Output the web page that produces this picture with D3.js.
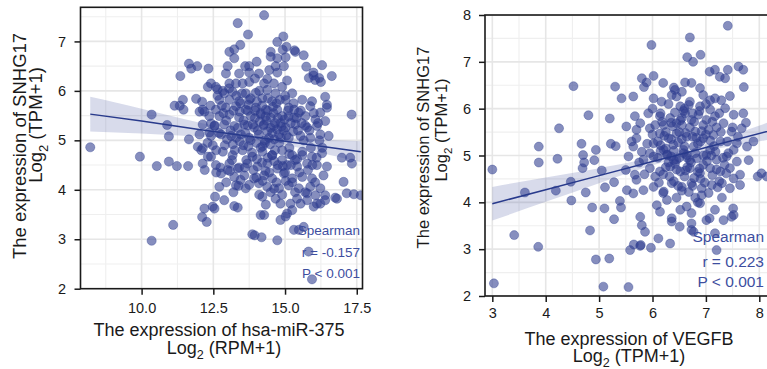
<!DOCTYPE html>
<html><head><meta charset="utf-8">
<script src="https://cdn.jsdelivr.net/npm/d3@7"></script>
<style>
body{margin:0;background:#fff;}
svg{display:block;font-family:"Liberation Sans",Arial,Helvetica,sans-serif;}
</style>
</head><body>
<svg id="chart" width="767" height="369"></svg>
<script>
// ---------------- DATA ----------------
// Left panel: x = hsa-miR-375 Log2(RPM+1), y = SNHG17 Log2(TPM+1)
const leftPoints = [
[8.21,4.86],[9.94,4.67],[10.35,2.97],[10.35,5.52],[10.53,4.48],[10.89,5.31],[10.95,5.08],[10.95,4.57],[11.10,3.29],[11.23,4.48],
[11.15,5.70],[11.33,5.70],[11.44,5.82],[11.46,5.62],[11.35,6.30],[11.65,6.55],[11.73,6.45],[11.94,6.50],[11.65,5.02],[11.62,4.48],
[11.90,5.84],[12.02,5.58],[12.11,5.78],[12.19,5.58],[11.96,4.87],[12.08,4.80],[12.13,4.53],[12.31,4.67],[12.11,3.45],[12.19,3.62],
[12.27,3.35],[12.33,6.45],[12.31,6.08],[12.36,5.16],[12.42,5.34],[12.54,3.62],[12.56,3.86],[12.60,4.35],[12.48,4.90],[12.65,6.03],
[13.00,6.50],[13.06,6.79],[13.23,6.84],[13.35,7.37],[13.71,7.14],[13.44,6.93],[14.27,7.53],[14.01,6.59],[13.75,6.50],[14.73,6.99],
[14.94,7.10],[15.05,6.89],[15.33,6.82],[15.65,6.72],[15.74,6.49],[16.29,6.52],[16.63,6.30],[16.40,5.88],[16.46,5.66],[17.32,5.52],
[15.99,6.31],[16.05,6.22],[16.25,6.18],[16.98,4.65],[17.27,4.65],[17.33,4.53],[17.04,4.16],[16.81,3.82],[17.15,3.93],[17.40,3.91],
[17.64,3.89],[15.94,2.19],[15.82,2.75],[15.48,3.19],[15.65,3.25],[14.73,2.98],[14.18,3.04],[13.94,3.08],[14.15,3.49],[13.35,3.64],
[13.23,3.67],[14.84,3.39],[15.07,3.52],[15.54,3.72],[16.00,3.66],[16.23,3.72],[16.40,3.89],[15.77,3.93],
[14.50,6.79],[14.92,6.83],[15.36,6.79],[14.50,6.69],[14.73,6.66],[15.02,6.68],[13.23,6.66],[13.61,6.50],[14.67,6.50],[14.96,6.50],
[14.73,6.37],[12.94,6.35],[13.40,6.35],[13.75,6.37],[14.09,6.35],[14.38,6.24],[15.07,6.21],[15.99,6.37],[15.83,6.26],[16.19,6.26],
[12.42,6.15],[12.59,6.08],[13.06,6.15],[13.29,6.15],[13.52,6.15],[13.75,6.18],[14.27,6.15],[14.61,6.15],[14.90,6.08],[12.83,6.00],
[13.17,5.98],[13.63,5.95],[13.98,5.96],[14.38,6.02],[14.67,5.95],[15.25,5.95],[12.71,5.82],[13.06,5.82],[13.40,5.79],[13.75,5.82],
[14.21,5.85],[14.55,5.79],[15.02,5.82],[15.60,5.82],[15.94,5.79],[16.46,5.72],[12.13,5.62],[12.59,5.62],[12.94,5.66],[13.29,5.69],
[13.63,5.62],[13.98,5.66],[14.33,5.62],[14.73,5.62],[15.13,5.66],[15.48,5.56],[15.88,5.69],[16.23,5.56],[12.36,5.49],[12.71,5.49],
[13.06,5.52],[13.40,5.46],[13.81,5.49],[14.15,5.52],[14.50,5.46],[14.90,5.49],[15.31,5.46],[15.71,5.49],[16.06,5.42],[12.13,5.32],
[12.54,5.29],[12.88,5.32],[13.23,5.29],[13.58,5.32],[13.92,5.26],[14.27,5.32],[14.61,5.29],[15.02,5.26],[15.36,5.32],[15.77,5.26],
[16.11,5.29],[16.40,5.39],[12.02,5.12],[12.42,5.09],[12.77,5.12],[13.12,5.09],[13.46,5.12],[13.75,5.05],[14.09,5.12],[14.44,5.05],
[14.79,5.12],[15.13,5.05],[15.54,5.09],[15.88,5.05],[16.23,5.12],[16.52,5.09],
[12.13,4.84],[12.42,4.67],[12.83,4.77],[13.17,4.70],[13.52,4.80],[13.86,4.67],[14.21,4.77],[14.55,4.70],[14.90,4.80],[15.25,4.70],
[15.60,4.77],[15.94,4.67],[16.29,4.74],[12.59,4.50],[13.06,4.53],[13.35,4.43],[13.69,4.53],[14.04,4.47],[14.38,4.53],[14.73,4.43],
[15.07,4.50],[15.42,4.47],[15.77,4.53],[16.11,4.50],[16.46,4.47],[12.77,4.33],[13.23,4.26],[13.58,4.29],[13.92,4.23],[14.27,4.29],
[14.55,4.23],[14.96,4.33],[15.25,4.23],[15.60,4.26],[15.94,4.23],[16.34,4.29],[12.71,4.06],[13.29,4.09],[13.63,4.03],[14.09,4.13],
[14.38,4.06],[14.79,4.03],[15.13,4.09],[15.48,4.03],[15.88,4.06],[16.23,4.03],[16.75,3.84],[12.48,3.66],[12.88,3.79],[14.21,3.86],
[14.33,3.70],[14.67,3.82],[14.84,3.72],[14.27,3.49],[15.02,3.46],[15.19,3.72],[15.25,3.59],[15.42,3.82],[15.77,3.79],[16.06,3.89],
[16.11,3.72],[16.40,3.79],[13.86,3.10],[15.31,3.19],
[13.45,5.75],[13.70,5.60],[13.95,5.45],[14.20,5.70],[14.35,5.40],[14.60,5.55],[14.85,5.35],[15.10,5.60],[14.05,5.20],[14.30,5.00],
[14.55,5.15],[14.80,4.95],[15.05,5.10],[13.80,5.00],[13.55,4.90],[13.30,5.05],[14.15,4.85],[14.40,4.65],[14.65,4.80],[14.90,4.60],
[15.15,4.85],[15.35,4.60],[13.65,4.60],[13.90,4.40],[14.20,4.55],[14.45,4.35],[14.70,4.15],[15.00,4.35],[15.25,4.15],[15.50,4.35],
[13.40,4.45],[13.15,4.60],[12.90,4.90],[12.70,5.15],[12.95,5.40],[13.20,5.60],[12.80,5.70],[13.05,6.05],[13.50,5.95],[13.80,5.85],
[14.10,6.00],[14.40,5.85],[14.70,5.75],[15.00,5.90],[15.30,5.75],[15.55,5.60],[15.70,5.30],[15.45,5.20],[15.65,5.00],[15.90,4.85],
[16.10,4.65],[15.80,4.40],[16.05,4.15],[15.70,3.95],[15.35,3.95],[14.90,3.90],[14.50,3.95],[14.10,3.90],[13.75,4.10],[13.45,4.20],
[13.20,3.95],[12.95,4.15],[12.75,4.45],[12.60,4.80],[12.55,5.30],[12.40,5.70],[12.30,4.95],[12.20,4.40],
[14.25,5.30],[14.50,5.25],[14.75,5.45],[14.95,5.20],[14.15,5.55],[14.40,5.60],[14.65,5.35],[14.30,4.95],[14.55,4.70],[14.85,5.05],
[13.95,5.60],[13.70,5.30],[13.85,4.75],[14.00,4.95],[15.20,5.35],[15.40,5.45],[15.60,4.70],[15.85,5.20],[16.00,5.55],[16.20,5.00],
[16.30,4.85],[16.15,5.35],[15.95,4.50],[15.20,4.50],[14.75,4.50],[13.55,5.40],[13.35,5.25],[13.10,5.20],[12.85,5.55],[12.65,5.90],
[13.00,4.40],[13.25,4.80],[13.60,4.45],
[14.12,5.38],[14.38,5.18],[14.62,5.02],[14.88,5.28],[14.22,4.88],[14.48,4.92],[14.72,5.22],[14.98,5.42],[13.88,5.32],[13.62,5.15],
[13.42,5.58],[13.72,5.72],[14.02,5.78],[14.32,5.48],[14.58,5.68],[14.82,5.82],[15.12,5.48],[15.28,5.18],[15.15,4.72],[14.92,4.48],
[14.62,4.58],[14.32,4.38],[14.02,4.62],[13.72,4.88],[13.42,4.98],[13.18,4.92],[12.98,5.02],[13.08,4.38],[13.38,4.08],[14.22,4.18],
[14.62,4.02],[15.02,4.18],[15.42,4.62],[15.58,5.35],[15.32,5.62],[13.95,6.25],[14.45,6.42],[12.88,5.95],[13.30,5.90],[14.00,4.25]
];
// Right panel: x = VEGFB Log2(TPM+1), y = SNHG17 Log2(TPM+1)
const rightPoints = [
[3.00,4.70],[3.03,2.27],[3.41,3.30],[3.61,4.21],[3.86,3.05],[3.87,5.19],[3.87,4.85],[4.19,4.25],[4.22,4.93],[4.25,5.58],
[4.47,4.44],[4.48,4.04],[4.52,6.48],[4.67,5.25],[4.69,4.73],[4.70,5.01],[4.72,4.85],[4.75,4.21],[4.80,5.86],[4.83,3.40],
[4.87,3.89],[4.91,4.90],[4.94,5.12],[4.94,2.78],[5.05,4.68],[5.08,2.20],[5.10,3.87],[5.11,4.32],[5.19,2.80],[5.20,5.79],
[5.22,5.25],[5.28,3.64],[5.30,6.47],[5.31,5.20],[5.39,4.03],[5.41,3.89],[5.42,6.22],[5.50,4.69],[5.51,5.62],[5.55,2.19],
[5.55,4.98],[5.58,2.98],[5.61,5.30],[5.64,6.26],[5.65,3.10],[5.70,4.48],[5.78,3.09],[5.80,6.65],[5.97,3.03],[5.98,7.36],
[6.11,3.23],[6.33,3.12],[6.70,7.52],[7.41,7.77],[6.65,7.10],[6.76,7.00],[6.90,7.15],[7.07,6.79],[7.17,6.83],[7.26,6.68],
[7.41,6.83],[7.61,6.90],[7.70,6.83],[7.71,6.46],[7.97,4.55],[8.04,4.62],[8.14,4.55],[7.51,3.87],[7.48,3.69],[7.33,3.62],
[7.17,3.34],[7.20,2.98],[7.01,3.62],[7.07,3.66],[6.73,3.41],[6.51,3.48],[6.36,3.59],[5.28,4.43],[5.77,3.07],
[7.36,6.65],[5.89,6.56],[6.02,6.70],[5.84,6.46],[6.20,6.55],[6.02,6.22],[6.17,6.15],[6.36,6.29],[6.55,6.36],[6.61,6.56],
[6.73,6.55],[6.89,6.44],[6.95,6.29],[7.08,6.18],[7.17,6.22],[7.29,6.18],[7.45,6.27],[7.36,6.01],[6.45,6.26],[6.52,6.05],
[6.70,6.15],[6.89,6.05],[7.08,5.98],[5.67,5.84],[5.77,5.69],[5.92,5.90],[5.95,5.58],[5.70,5.37],[6.14,5.84],[6.21,5.65],
[6.33,5.80],[6.45,5.69],[6.61,5.90],[6.73,5.76],[6.86,5.87],[7.01,5.76],[7.17,5.84],[7.33,5.69],[7.52,5.87],[7.70,5.90],
[7.67,5.58],[7.48,5.51],[6.14,5.47],[6.30,5.37],[6.45,5.47],[6.64,5.40],[6.80,5.51],[6.95,5.37],[7.14,5.44],[7.27,5.30],
[7.58,5.26],[7.77,5.19],[7.89,5.30],[6.02,5.26],[6.21,5.12],[6.39,5.23],[6.58,5.12],[6.77,5.19],[7.08,5.12],[7.52,5.12],
[5.64,5.19],[5.80,5.08],[6.42,6.40],
[5.83,4.91],[6.02,4.98],[6.27,5.01],[6.45,4.91],[6.64,5.01],[6.83,4.94],[7.01,5.01],[7.20,4.91],[7.39,4.98],[7.58,4.87],
[5.95,4.73],[6.14,4.66],[6.33,4.76],[6.52,4.66],[6.70,4.73],[6.89,4.62],[7.08,4.73],[7.27,4.66],[7.45,4.73],[7.64,4.59],
[5.67,4.59],[5.52,4.26],[5.64,4.19],[5.83,4.26],[6.02,4.33],[6.21,4.23],[6.36,4.41],[6.55,4.33],[6.73,4.41],[6.92,4.30],
[7.11,4.37],[7.30,4.41],[7.52,4.51],[7.64,4.37],[5.77,3.69],[5.80,3.51],[5.86,3.37],[6.08,3.94],[6.14,3.80],[6.27,4.05],
[6.36,3.66],[6.52,3.84],[6.64,3.91],[6.73,3.77],[6.73,3.55],[6.77,3.37],[6.89,3.98],[7.17,3.84],[7.52,3.73],
[6.10,5.30],[6.25,5.50],[6.40,5.10],[6.55,5.35],[6.70,5.60],[6.85,5.25],[7.00,5.45],[7.15,5.20],[6.30,4.85],[6.50,4.95],
[6.65,4.75],[6.80,5.05],[6.95,4.80],[7.10,5.00],[6.20,4.60],[6.40,4.45],[6.60,4.55],[6.75,4.35],[6.90,4.50],[7.05,4.20],
[6.35,5.70],[6.55,5.80],[6.75,5.90],[6.95,5.65],[7.20,5.60],[6.15,5.90],[6.00,5.45],[5.95,5.05],[6.05,4.55],[6.45,4.10],
[6.80,4.10],[7.25,4.45],[7.40,5.30],[7.50,5.60],[7.35,4.80],[6.25,5.15],[6.60,5.20],[6.90,5.30],[6.50,5.50],[6.45,4.70],
[6.20,4.20],[6.10,4.95],[7.00,6.10],[6.60,6.00],[6.30,6.10],[5.90,5.25],[5.85,4.60],[7.60,5.40],[7.75,5.70],[7.80,4.90],
[6.85,4.65],[6.65,4.95],[6.35,5.35],[6.55,5.65],[6.15,5.10],[7.05,5.55],[6.75,5.40],[6.95,5.00],[7.20,4.70],[6.40,4.90],
[6.70,4.90],[6.25,4.75],[6.55,4.25],[6.85,4.00],[7.30,4.10],[7.45,4.30],[5.75,4.85],[5.70,5.55],[6.00,6.00],[6.40,6.45],
[6.22,5.42],[6.38,5.62],[6.48,5.28],[6.62,5.48],[6.78,5.72],[6.92,5.52],[7.08,5.32],[6.28,5.02],[6.42,4.82],[6.58,5.05],
[6.72,4.85],[6.88,4.72],[7.02,4.88],[7.18,5.08],[6.32,4.55],[6.48,4.35],[6.62,4.68],[6.78,4.52],[6.98,4.42],[7.12,4.58],
[6.18,5.72],[6.42,5.92],[6.68,6.08],[6.88,5.95],[7.12,5.72],[7.28,5.50],[7.42,5.05],[7.32,4.95],[6.12,4.42],[6.05,5.65],
[6.68,4.22],[6.92,4.15],[7.22,4.32],[7.38,4.62],[6.52,5.75],[6.82,5.38],[6.58,5.95],[6.35,4.98],[6.15,5.22],[7.25,5.90]
];

// Regression fits with 95% confidence band
const leftFitX  = [8.21, 10, 12, 14, 15, 16, 17.64];
const leftFitY  = [5.53, 5.39, 5.22, 5.06, 4.98, 4.90, 4.77];
const leftFitLo = [5.18, 5.14, 5.08, 5.01, 4.91, 4.78, 4.56];
const leftFitHi = [5.88, 5.64, 5.36, 5.11, 5.05, 5.02, 4.98];

const rightFitX  = [3.0, 4, 5, 6, 6.6, 7, 8.3];
const rightFitY  = [3.97, 4.27, 4.57, 4.87, 5.05, 5.17, 5.56];
const rightFitLo = [3.61, 4.01, 4.41, 4.79, 4.99, 5.10, 5.36];
const rightFitHi = [4.33, 4.53, 4.73, 4.95, 5.11, 5.24, 5.76];

// Ticks
const leftTicksX = [10, 12.5, 15, 17.5];
const leftTickLabelsX = ["10.0", "12.5", "15.0", "17.5"];
const leftMinorX = [8.75, 11.25, 13.75, 16.25];
const leftTicksY = [2, 3, 4, 5, 6, 7];
const leftMinorY = [2.5, 3.5, 4.5, 5.5, 6.5, 7.5];

const rightTicksX = [3, 4, 5, 6, 7, 8];
const rightMinorX = [3.5, 4.5, 5.5, 6.5, 7.5];
const rightTicksY = [2, 3, 4, 5, 6, 7, 8];
const rightMinorY = [2.5, 3.5, 4.5, 5.5, 6.5, 7.5];

// Texts
const leftXTitle = ["The expression of hsa-miR-375", "RPM+1"];
const rightXTitle = ["The expression of VEGFB", "TPM+1"];
const yTitle = ["The expression of SNHG17", "TPM+1"];
const leftStats = ["Spearman", "r = -0.157", "P < 0.001"];
const rightStats = ["Spearman", "r = 0.223", "P < 0.001"];

// ---------------- DRAWING ----------------
const svg = d3.select("#chart");
const POINT = "#2e3d8f";
const TEXT = "#1a1a1a";

function logLine(sel, unit, fs) {
  sel.append("tspan").text("Log");
  sel.append("tspan").attr("font-size", fs * 0.7).attr("dy", fs * 0.3).text("2");
  sel.append("tspan").attr("dy", -fs * 0.3).text(" (" + unit + ")");
}

function panel(c) {
  const x = d3.scaleLinear().domain(c.xDomain).range([c.left, c.right]);
  const y = d3.scaleLinear().domain(c.yDomain).range([c.bottom, c.top]);
  const g = svg.append("g");
  const clipId = "clip-" + c.id;
  svg.append("defs").append("clipPath").attr("id", clipId)
    .append("rect").attr("x", c.left).attr("y", c.top)
    .attr("width", c.right - c.left).attr("height", c.bottom - c.top);
  const inner = g.append("g").attr("clip-path", `url(#${clipId})`);

  // grid
  const grid = inner.append("g");
  grid.selectAll("line.mx").data(c.minorX).join("line")
    .attr("x1", d => x(d)).attr("x2", d => x(d)).attr("y1", c.top).attr("y2", c.bottom)
    .attr("stroke", "#efefef").attr("stroke-width", 1.1);
  grid.selectAll("line.my").data(c.minorY).join("line")
    .attr("y1", d => y(d)).attr("y2", d => y(d)).attr("x1", c.left).attr("x2", c.right)
    .attr("stroke", "#efefef").attr("stroke-width", 1.1);
  grid.selectAll("line.gx").data(c.ticksX).join("line")
    .attr("x1", d => x(d)).attr("x2", d => x(d)).attr("y1", c.top).attr("y2", c.bottom)
    .attr("stroke", "#e6e6e6").attr("stroke-width", 1.6);
  grid.selectAll("line.gy").data(c.ticksY).join("line")
    .attr("y1", d => y(d)).attr("y2", d => y(d)).attr("x1", c.left).attr("x2", c.right)
    .attr("stroke", "#e6e6e6").attr("stroke-width", 1.6);

  // confidence band
  const band = c.fitX.map((v, i) => ({ x: v, lo: c.fitLo[i], hi: c.fitHi[i] }));
  inner.append("path").datum(band)
    .attr("d", d3.area().x(d => x(d.x)).y0(d => y(d.lo)).y1(d => y(d.hi)).curve(d3.curveNatural))
    .attr("fill", "#3a4a9a").attr("fill-opacity", 0.2);

  // points
  inner.append("g").selectAll("circle").data(c.points).join("circle")
    .attr("cx", d => x(d[0])).attr("cy", d => y(d[1])).attr("r", c.r)
    .attr("fill", POINT).attr("fill-opacity", 0.58)
    .attr("stroke", POINT).attr("stroke-opacity", 0.45).attr("stroke-width", 0.8);

  // regression line
  const fit = c.fitX.map((v, i) => [v, c.fitY[i]]);
  inner.append("path").datum(fit)
    .attr("d", d3.line().x(d => x(d[0])).y(d => y(d[1])))
    .attr("fill", "none").attr("stroke", "#283a8c").attr("stroke-width", 1.5);

  // border
  g.append("rect").attr("x", c.left).attr("y", c.top)
    .attr("width", c.right - c.left).attr("height", c.bottom - c.top)
    .attr("fill", "none").attr("stroke", "#1a1a1a").attr("stroke-width", 1.6);

  // axes
  const ax = g.append("g").attr("transform", `translate(0,${c.bottom})`)
    .call(d3.axisBottom(x).tickValues(c.ticksX).tickSize(6).tickPadding(c.xPad)
      .tickFormat((d, i) => c.tickLabelsX ? c.tickLabelsX[i] : String(d)));
  const ay = g.append("g").attr("transform", `translate(${c.left},0)`)
    .call(d3.axisLeft(y).tickValues(c.ticksY).tickSize(6).tickPadding(c.yPad).tickFormat(d3.format("d")));
  [ax, ay].forEach(a => {
    a.select(".domain").remove();
    a.selectAll(".tick line").attr("stroke", "#1a1a1a").attr("stroke-width", 1.5);
    a.selectAll(".tick text").attr("fill", TEXT).attr("font-size", 14.5)
      .attr("font-family", '"Liberation Sans",Arial,sans-serif');
  });

  // stats annotation
  g.append("g").selectAll("text").data(c.stats).join("text")
    .attr("x", c.statX).attr("y", (d, i) => c.statY[i])
    .attr("text-anchor", "end").attr("font-size", c.statFs).attr("fill", "#3d4e9f")
    .text(d => d);

  // x title
  g.append("text").attr("x", c.xt1[0]).attr("y", c.xt1[1]).attr("text-anchor", "middle")
    .attr("font-size", 18).attr("fill", TEXT).text(c.xTitle[0]);
  const xt2 = g.append("text").attr("x", c.xt2[0]).attr("y", c.xt2[1]).attr("text-anchor", "middle")
    .attr("font-size", 18).attr("fill", TEXT);
  logLine(xt2, c.xTitle[1], 18);

  // y title
  g.append("text").attr("transform", `translate(${c.yt1[0]},${c.yt1[1]}) rotate(-90)`)
    .attr("text-anchor", "middle").attr("font-size", c.yFs).attr("fill", TEXT).text(yTitle[0]);
  const yt2 = g.append("text").attr("transform", `translate(${c.yt2[0]},${c.yt2[1]}) rotate(-90)`)
    .attr("text-anchor", "middle").attr("font-size", c.yFs).attr("fill", TEXT);
  logLine(yt2, yTitle[1], c.yFs);
}

panel({
  id: "L", left: 80.5, right: 362.5, top: 7.3, bottom: 288.7,
  xDomain: [7.87, 17.70], yDomain: [2, 7.69],
  points: leftPoints, r: 4.6,
  fitX: leftFitX, fitY: leftFitY, fitLo: leftFitLo, fitHi: leftFitHi,
  ticksX: leftTicksX, tickLabelsX: leftTickLabelsX, minorX: leftMinorX,
  ticksY: leftTicksY, minorY: leftMinorY, xPad: 8, yPad: 8.5,
  stats: leftStats, statX: 360, statY: [235, 257, 278], statFs: 13.5,
  xTitle: leftXTitle, xt1: [219, 335.5], xt2: [224, 353.5],
  yFs: 18.5, yt1: [26, 146], yt2: [42, 125]
});

panel({
  id: "R", left: 485, right: 775, top: 15, bottom: 296,
  xDomain: [2.863, 8.294], yDomain: [2, 8],
  points: rightPoints, r: 4.5,
  fitX: rightFitX, fitY: rightFitY, fitLo: rightFitLo, fitHi: rightFitHi,
  ticksX: rightTicksX, tickLabelsX: null, minorX: rightMinorX,
  ticksY: rightTicksY, minorY: rightMinorY, xPad: 6, yPad: 8,
  stats: rightStats, statX: 764, statY: [242, 267, 287], statFs: 15.5,
  xTitle: rightXTitle, xt1: [629, 344.5], xt2: [629, 361.5],
  yFs: 16.5, yt1: [429, 147.5], yt2: [447, 130]
});
</script>
</body></html>
